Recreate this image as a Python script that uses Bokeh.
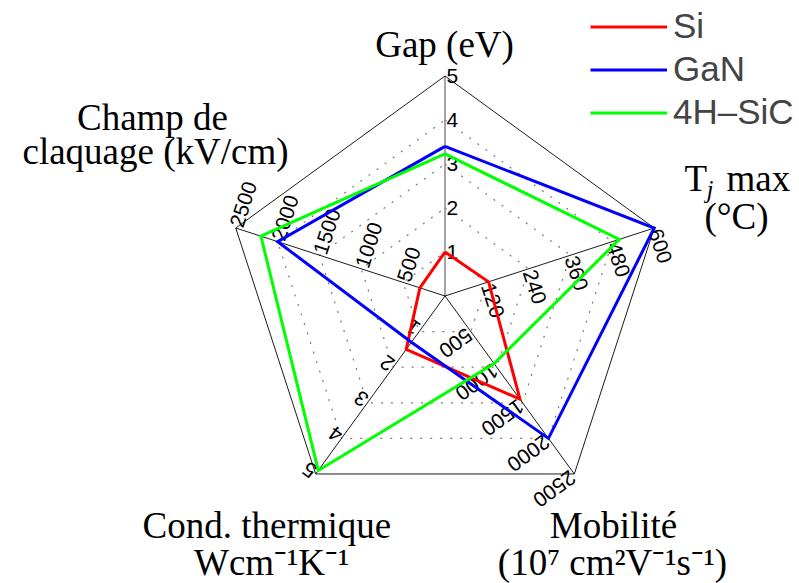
import numpy as np
from bokeh.plotting import figure
from bokeh.models import Range1d, ColumnDataSource, Legend, LegendItem
from bokeh.core.properties import value
from bokeh.embed import file_html
from bokeh.resources import INLINE

# ---------------- data ----------------
axis_names = ["Gap (eV)", "Tj max (°C)", "Mobilité", "Cond. thermique", "Champ de claquage"]
axis_max = [5, 600, 2500, 5, 2500]
tick_labels = [
    ["1", "2", "3", "4", "5"],
    ["120", "240", "360", "480", "600"],
    ["500", "1000", "1500", "2000", "2500"],
    ["1", "2", "3", "4", "5"],
    ["500", "1000", "1500", "2000", "2500"],
]
series_names = ["Si", "GaN", "4H\u2013SiC"]
si_values = [1.0, 125, 1450, 1.5, 300]
gan_values = [3.4, 600, 2000, 1.3, 2000]
sic_values = [3.23, 500, 950, 4.9, 2200]
series_values = [si_values, gan_values, sic_values]
series_colors = ["#ff0000", "#0000ff", "#00ff00"]

# ---------------- geometry ----------------
W, H = 799, 583
CX, CY = 444.5, 295.5          # centre of the radar in picture pixels
R = 220.0                      # radius in pixels
angles = np.deg2rad([90, 18, -54, -126, -198])

def S(x, y):
    """picture pixel -> data coordinate"""
    return x - CX, CY - y

p = figure(width=W, height=H, output_backend="svg", toolbar_location=None,
           x_range=Range1d(-CX, W - CX), y_range=Range1d(CY - H, CY),
           x_axis_type=None, y_axis_type=None, min_border=0)
p.grid.visible = False
p.outline_line_color = None
p.background_fill_color = "white"
p.border_fill_color = "white"

# dotted rings
for k in range(1, 5):
    f = k / 5
    xs = list(R * f * np.cos(angles)) + [R * f * np.cos(angles[0])]
    ys = list(R * f * np.sin(angles)) + [R * f * np.sin(angles[0])]
    p.line(xs, ys, line_color="#7a7a7a", line_width=1.2, line_dash="2 8")

# spokes
for i, a in enumerate(angles):
    col = "#808080" if i == 0 else "black"
    lw = 1.4 if i == 0 else 0.9
    p.line([0, R * np.cos(a)], [0, R * np.sin(a)], line_color=col, line_width=lw)

# outer pentagon
xs = list(R * np.cos(angles)) + [R * np.cos(angles[0])]
ys = list(R * np.sin(angles)) + [R * np.sin(angles[0])]
p.line(xs, ys, line_color="black", line_width=0.9)

# tick labels (rotated along each axis)
tx, ty, tt, ta = [], [], [], []
for i, a in enumerate(angles):
    rot = a - np.pi / 2
    for k, lab in enumerate(tick_labels[i]):
        r = R * (k + 1) / 5
        tx.append(r * np.cos(a) + 1.5 * np.cos(rot))
        ty.append(r * np.sin(a) + 1.5 * np.sin(rot))
        tt.append(lab)
        ta.append(rot)
tsrc = ColumnDataSource(dict(x=tx, y=ty, text=tt, angle=ta))
p.text(x="x", y="y", text="text", angle="angle", source=tsrc,
       text_font=value("Liberation Sans"), text_font_size=value("21px"),
       text_align="left", text_baseline="middle", text_color="black")

# data polygons
renderers = []
for name, vals, col in zip(series_names, series_values, series_colors):
    rr = [R * v / m for v, m in zip(vals, axis_max)]
    xs = [r * np.cos(a) for r, a in zip(rr, angles)]
    ys = [r * np.sin(a) for r, a in zip(rr, angles)]
    xs.append(xs[0]); ys.append(ys[0])
    rend = p.line(xs, ys, line_color=col, line_width=3, line_join="miter")
    renderers.append(rend)

# axis titles (y given as the text baseline in picture pixels)
serif = value("Liberation Serif")
def label(x, y, txt, size=37, align="center", style="normal"):
    sx, sy = S(x, y - 0.3375 * size)
    p.text(x=[sx], y=[sy], text=[txt], text_font=serif, text_font_size=value(f"{size}px"),
           text_align=align, text_baseline="middle", text_color="black",
           text_font_style=style)

label(444, 56, "Gap (eV)")
label(152, 129, "Champ de")
label(155, 163, "claquage (kV/cm)")
label(684, 190, "T", align="left")
label(706, 197, "j", size=25, align="left", style="italic")
label(726, 190, "max", align="left")
label(736, 228, "(°C)")
label(613, 537, "Mobilité")
label(612, 574, "(10\u2077 cm\u00b2V\u207b\u00b9s\u207b\u00b9)")
label(271, 537, "Cond.  thermique")
label(271, 574, "Wcm\u207b\u00b9K\u207b\u00b9")

# legend
legend = Legend(items=[LegendItem(label=n, renderers=[r]) for n, r in zip(series_names, renderers)],
                location=(590, 451), padding=0, margin=0, spacing=3,
                glyph_width=77, glyph_height=37, label_height=37, label_standoff=6,
                label_text_font="Liberation Sans", label_text_font_size="35px",
                border_line_color=None, background_fill_alpha=0)
p.add_layout(legend)

open("out.html", "w").write(file_html(p, INLINE))
